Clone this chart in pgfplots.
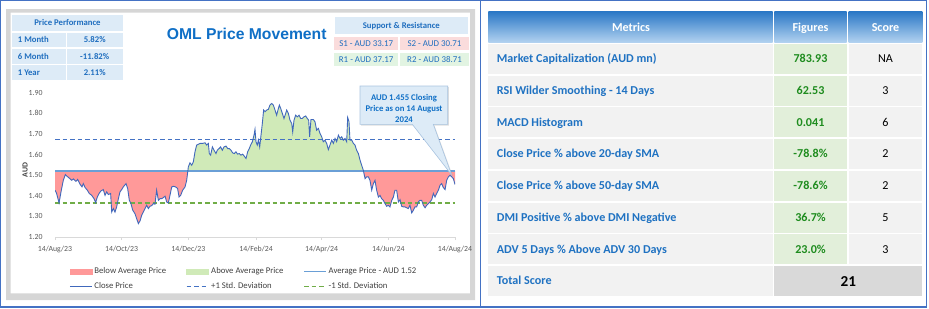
\documentclass[border=0pt]{standalone}
\usepackage{pgfplots}
\usepackage{pgfplotstable}
\pgfplotsset{compat=1.18}
\usepgfplotslibrary{fillbetween}
\usetikzlibrary{shadows}
\usepackage{fontspec}
\setmainfont{Carlito}
\newfontfamily\titlefont{Liberation Sans}

\definecolor{frameblue}{HTML}{4472C4}
\definecolor{cardgray}{HTML}{D6D6D6}
\definecolor{cellblue}{HTML}{DDEBF7}
\definecolor{tblue}{HTML}{1F6EBF}
\definecolor{titleblue}{HTML}{0F6FC6}
\definecolor{pinkcell}{HTML}{FADCDC}
\definecolor{greencell}{HTML}{E2F4E2}
\definecolor{redfill}{HTML}{FF9999}
\definecolor{greenfill}{HTML}{D0EAB8}
\definecolor{closeblue}{HTML}{4068BC}
\definecolor{avgblue}{HTML}{6A9FD6}
\definecolor{sdblue}{HTML}{4472C4}
\definecolor{sdgreen}{HTML}{70AD47}
\definecolor{axisgray}{HTML}{D9D9D9}
\definecolor{tickgray}{HTML}{595959}
\definecolor{legendgray}{HTML}{404040}
\definecolor{calloutfill}{HTML}{DDEBF7}
\definecolor{calloutdraw}{HTML}{A9C4E0}
\definecolor{hdrtop}{HTML}{2B78C6}
\definecolor{hdrbot}{HTML}{B2D2F0}
\definecolor{rowgray}{HTML}{F2F2F2}
\definecolor{figgreen}{HTML}{E2EFDA}
\definecolor{totgray}{HTML}{D9D9D9}
\definecolor{mblue}{HTML}{1F72C2}
\definecolor{fgreen}{HTML}{1E8C1E}

\pgfplotstableread{
day price
0 1.427
1.5 1.411
3.7 1.365
5.5 1.419
7.6 1.475
9.5 1.503
11.6 1.492
13.7 1.483
15.3 1.475
16.8 1.482
19.2 1.470
20.7 1.479
22.9 1.456
24.7 1.443
25.9 1.459
27.5 1.440
29.6 1.427
31.4 1.411
33.6 1.402
35.7 1.386
37.2 1.367
38.7 1.394
40.3 1.411
42.1 1.424
44.2 1.430
45.8 1.402
47.3 1.419
48.8 1.406
50.9 1.411
51.9 1.321
53.4 1.338
54.9 1.321
56.4 1.346
58.0 1.386
59.5 1.419
61.0 1.430
62.5 1.443
65.0 1.459
66.5 1.435
68.0 1.378
69.5 1.362
71.1 1.330
73.2 1.313
74.7 1.289
76.3 1.265
77.8 1.278
79.3 1.305
80.8 1.321
82.4 1.338
83.9 1.354
85.4 1.338
86.9 1.349
88.5 1.352
90.0 1.362
91.5 1.359
93.0 1.427
94.6 1.378
96.1 1.386
97.6 1.386
99.1 1.391
100.7 1.398
102.2 1.370
103.7 1.365
105.2 1.402
106.8 1.443
108.3 1.446
110.4 1.443
112.2 1.435
113.5 1.394
115.0 1.402
116.8 1.427
119.0 1.443
120.5 1.475
122.0 1.540
123.5 1.560
125.1 1.548
126.6 1.565
128.1 1.613
129.6 1.646
131.2 1.650
132.7 1.654
135.1 1.654
137.3 1.657
138.8 1.646
140.3 1.654
141.2 1.605
142.4 1.597
144.0 1.637
145.5 1.621
147.3 1.605
148.5 1.621
150.1 1.629
151.6 1.637
153.1 1.621
154.6 1.637
156.5 1.641
158.0 1.629
159.5 1.629
161.0 1.621
162.6 1.608
164.1 1.605
165.6 1.613
167.1 1.602
168.7 1.605
170.2 1.597
171.7 1.602
173.2 1.592
174.8 1.581
176.3 1.613
177.8 1.629
179.0 1.646
180.6 1.662
182.1 1.694
183.0 1.722
183.9 1.662
185.1 1.646
186.1 1.670
187.3 1.637
188.5 1.694
189.7 1.751
190.9 1.816
192.2 1.808
193.7 1.816
195.2 1.819
196.7 1.840
198.3 1.848
199.8 1.840
201.3 1.816
202.8 1.791
204.4 1.824
205.3 1.840
206.5 1.824
208.0 1.800
209.5 1.775
211.1 1.800
212.0 1.816
213.5 1.800
215.0 1.767
216.6 1.751
217.5 1.710
218.7 1.767
220.2 1.791
221.7 1.783
223.3 1.791
224.8 1.775
226.3 1.775
227.8 1.783
229.4 1.787
230.9 1.775
232.1 1.767
233.0 1.686
234.2 1.770
236.4 1.770
237.9 1.759
239.4 1.718
241.0 1.727
242.5 1.702
244.0 1.686
245.5 1.662
247.1 1.670
248.6 1.654
250.1 1.624
251.6 1.646
253.2 1.670
254.7 1.654
256.2 1.678
257.7 1.662
259.3 1.694
260.8 1.678
262.3 1.686
263.8 1.670
265.4 1.678
266.9 1.662
267.8 1.780
269.0 1.759
269.9 1.670
271.5 1.670
273.0 1.654
274.5 1.646
276.0 1.621
277.6 1.605
279.1 1.573
280.6 1.548
282.1 1.524
283.7 1.483
285.2 1.492
286.7 1.492
288.2 1.475
289.8 1.427
291.3 1.459
292.8 1.475
294.3 1.427
295.9 1.394
297.4 1.402
298.9 1.386
300.4 1.378
302.0 1.362
303.5 1.349
305.0 1.354
306.5 1.346
308.1 1.378
309.6 1.394
311.1 1.427
312.6 1.427
314.2 1.370
315.7 1.381
317.2 1.349
318.7 1.346
320.3 1.346
321.8 1.342
323.3 1.338
324.8 1.354
326.4 1.317
327.9 1.330
329.4 1.346
330.9 1.346
332.5 1.370
334.0 1.378
335.5 1.378
337.0 1.354
338.6 1.342
340.1 1.354
341.6 1.362
343.1 1.370
344.7 1.381
346.2 1.411
347.7 1.394
349.2 1.411
350.8 1.427
352.3 1.451
353.8 1.459
355.3 1.440
356.9 1.430
358.4 1.475
359.9 1.492
361.4 1.500
363.0 1.492
364.5 1.483
366 1.455
}\pricedata

\newcommand{\fs}[1]{\fontsize{#1}{#1}\selectfont}

\begin{document}
\begin{tikzpicture}
\begin{scope}[x=1pt,y=-1pt]
\useasboundingbox (0,0) rectangle (929,308);
% frames
\draw[frameblue, line width=1.4pt] (0.7,0.7) rectangle (926.7,306.9);
\draw[frameblue, line width=1.4pt] (480.5,0.7) -- (480.5,306.9);
% left card (ring only, so nothing lies under the plot)
\fill[cardgray, even odd rule] (6,9) rectangle (475,300) (10.7,12.7) rectangle (470,293.3);

% Price performance table
\fill[cellblue] (12.3,15) rectangle (122.7,30.7);
\node[inner sep=0, text height=5.6pt, text depth=0pt, font=\bfseries\fs{8.7}, text=tblue] at (67.5,22.8) {Price Performance};
\foreach \t/\b/\c/\lab/\val in {32.5/47.3/39.9/1 Month/5.82\%, 49/63.8/56.4/6 Month/-11.82\%, 65.4/79.5/72.4/1 Year/2.11\%}{
  \fill[cellblue] (12.3,\t) rectangle (65.7,\b);
  \fill[cellblue] (66.9,\t) rectangle (122.7,\b);
  \node[anchor=west, inner sep=0, text height=5.6pt, text depth=0pt, font=\bfseries\fs{8.7}, text=tblue] at (17.7,\c) {\lab};
  \node[inner sep=0, text height=5.6pt, text depth=0pt, font=\bfseries\fs{8.7}, text=tblue] at (94.7,\c) {\val};
}

% Title
\node[inner sep=0, text height=11.2pt, text depth=0pt, font=\titlefont\bfseries\fs{15.7}, text=titleblue] at (246.7,34.3) {OML Price Movement};

% Support & resistance
\fill[cellblue] (335,17.3) rectangle (467.7,34);
\node[inner sep=0, text height=5.6pt, text depth=0pt, font=\bfseries\fs{8.7}, text=tblue] at (401.3,25.7) {Support \& Resistance};
\fill[pinkcell] (334,36.7) rectangle (398.3,50);
\fill[pinkcell] (400,36.7) rectangle (469,50);
\fill[greencell] (334,52.7) rectangle (398.3,66);
\fill[greencell] (400,52.7) rectangle (469,66);
\node[inner sep=0, text height=5.7pt, text depth=0pt, font=\fs{8.9}, text=tblue] at (366.2,43.4) {S1 - AUD 33.17};
\node[inner sep=0, text height=5.7pt, text depth=0pt, font=\fs{8.9}, text=tblue] at (434.5,43.4) {S2 - AUD 30.71};
\node[inner sep=0, text height=5.7pt, text depth=0pt, font=\fs{8.9}, text=tblue] at (366.2,59.4) {R1 - AUD 37.17};
\node[inner sep=0, text height=5.7pt, text depth=0pt, font=\fs{8.9}, text=tblue] at (434.5,59.4) {R2 - AUD 38.71};

% Right table
\shade[top color=hdrtop, bottom color=hdrbot] (488.3,11.7) rectangle (772.7,42.3);
\shade[top color=hdrtop, bottom color=hdrbot] (774.3,11.7) rectangle (846.7,42.3);
\shade[top color=hdrtop, bottom color=hdrbot] (848.7,11.7) rectangle (922.3,42.3);
\node[inner sep=0, text height=7.7pt, text depth=0pt, font=\bfseries\fs{12.1}, text=white] at (631,27.2) {Metrics};
\node[inner sep=0, text height=7.7pt, text depth=0pt, font=\bfseries\fs{12.1}, text=white] at (810.5,27.2) {Figures};
\node[inner sep=0, text height=7.7pt, text depth=0pt, font=\bfseries\fs{12.1}, text=white] at (885.5,27.2) {Score};
\foreach \i in {0,...,6}{
  \pgfmathsetmacro\tt{43.8+\i*31.75}
  \pgfmathsetmacro\bb{\tt+30.1}
  \fill[rowgray] (488.3,\tt) rectangle (772.7,\bb);
  \fill[figgreen] (774.3,\tt) rectangle (846.7,\bb);
  \fill[rowgray] (848.7,\tt) rectangle (922.3,\bb);
}
\fill[rowgray] (488.3,266.05) rectangle (772.7,296.15);
\fill[totgray] (774.3,266.05) rectangle (922.3,296.15);
\foreach \c/\lab/\val/\sc in {
 58.85/Market Capitalization (AUD mn)/783.93/NA,
 90.6/RSI Wilder Smoothing - 14 Days/62.53/3,
 122.35/MACD Histogram/0.041/6,
 154.1/Close Price \% above 20-day SMA/-78.8\%/2,
 185.85/Close Price \% above 50-day SMA/-78.6\%/2,
 217.6/DMI Positive \% above DMI Negative/36.7\%/5,
 249.35/ADV 5 Days \% Above ADV 30 Days/23.0\%/3}{
  \node[anchor=west, inner sep=0, text height=7.7pt, text depth=0pt, font=\bfseries\fs{12.1}, text=mblue] at (496.7,\c) {\lab};
  \node[inner sep=0, text height=7.7pt, text depth=0pt, font=\bfseries\fs{12.1}, text=fgreen] at (810.5,\c) {\val};
  \node[inner sep=0, text height=7.7pt, text depth=0pt, font=\fs{12.1}, text=black] at (885.5,\c) {\sc};
}
\node[anchor=west, inner sep=0, text height=7.7pt, text depth=0pt, font=\bfseries\fs{12.1}, text=mblue] at (496.7,281.1) {Total Score};
\node[inner sep=0, text height=9.5pt, text depth=0pt, font=\bfseries\fs{15.2}, text=black] at (848.3,281.4) {21};
\end{scope}

\begin{axis}[
  at={(55pt,-237pt)}, anchor=south west,
  scale only axis, width=400pt, height=144.3pt,
  xmin=0, xmax=366, ymin=1.2, ymax=1.9,
  axis x line*=bottom, axis y line*=left,
  axis line style={-},
  x axis line style={draw=axisgray, line width=0.7pt},
  y axis line style={draw=none},
  xtick={0,61,122,184,244,305,366},
  xticklabels={14/Aug/23,14/Oct/23,14/Dec/23,14/Feb/24,14/Apr/24,14/Jun/24,14/Aug/24},
  ytick={1.2,1.3,1.4,1.5,1.6,1.7,1.8,1.9},
  /pgf/number format/assume math mode=true,
  yticklabel style={/pgf/number format/.cd, fixed, fixed zerofill, precision=2, /tikz/.cd, xshift=-6pt},
  xticklabel style={yshift=-3pt},
  x tick style={draw=axisgray, line width=0.7pt},
  y tick style={draw=none},
  tick align=outside, major tick length=3pt,
  tick label style={font=\fs{7.8}, text=tickgray},
  ylabel={AUD},
  ylabel style={font=\bfseries\fs{7.8}, text=legendgray, at={(axis description cs:-0.075,0.464)}, anchor=center},
  legend columns=3,
  legend cell align=left,
  legend style={at={(axis description cs:0.0275,-0.185)}, anchor=north west, draw=none, fill=none,
    font=\fs{8.7}, text=legendgray, /tikz/every even column/.append style={column sep=18pt}, row sep=3pt},
]
\addplot[name path=avgline, draw=none, forget plot] coordinates {(0,1.52) (366,1.52)};
\addplot[name path=price, draw=none, forget plot] table[x=day, y=price] {\pricedata};
\addplot[draw=none, forget plot] fill between[of=price and avgline, split,
   every even segment/.style={fill=redfill},
   every odd segment/.style={fill=greenfill}];
\addplot[sdblue, line width=1.1pt, dash pattern=on 4.5pt off 3pt, forget plot] coordinates {(0,1.675) (366,1.675)};
\addplot[sdgreen, line width=1.1pt, dash pattern=on 4.5pt off 3pt, forget plot] coordinates {(0,1.365) (366,1.365)};
\addplot[avgblue, line width=1.3pt, forget plot] coordinates {(0,1.52) (366,1.52)};
\addplot[closeblue, line width=0.9pt, forget plot] table[x=day, y=price] {\pricedata};

\addlegendimage{legend image code/.code={\fill[redfill] (0pt,-2.4pt) rectangle (22pt,2.4pt);}}
\addlegendentry{Below Average Price}
\addlegendimage{legend image code/.code={\fill[greenfill] (0pt,-2.4pt) rectangle (22pt,2.4pt);}}
\addlegendentry{Above Average Price}
\addlegendimage{legend image code/.code={\draw[avgblue, line width=1.2pt] (0pt,0pt) -- (22pt,0pt);}}
\addlegendentry{Average Price - AUD 1.52}
\addlegendimage{legend image code/.code={\draw[closeblue, line width=1.2pt] (0pt,0pt) -- (22pt,0pt);}}
\addlegendentry{Close Price}
\addlegendimage{legend image code/.code={\draw[sdblue, line width=1.1pt, dash pattern=on 4.5pt off 3pt] (0pt,0pt) -- (22pt,0pt);}}
\addlegendentry{+1 Std. Deviation}
\addlegendimage{legend image code/.code={\draw[sdgreen, line width=1.1pt, dash pattern=on 4.5pt off 3pt] (0pt,0pt) -- (22pt,0pt);}}
\addlegendentry{-1 Std. Deviation}
\end{axis}

\begin{scope}[x=1pt,y=-1pt]
\path[fill=calloutfill, draw=calloutdraw, line width=0.6pt, drop shadow={opacity=0.25, shadow xshift=1.2pt, shadow yshift=-1.2pt}]
  (360,86) -- (447.7,86) -- (447.7,124.3) -- (433.3,124.3) -- (451.7,175) -- (412.3,124.3) -- (360,124.3) -- cycle;
\node[align=center, inner sep=0, font=\bfseries\fontsize{8.7}{10.8}\selectfont, text=titleblue] at (404,108.3) {AUD 1.455 Closing\\Price as on 14 August\\2024};
\end{scope}
\end{tikzpicture}
\end{document}
